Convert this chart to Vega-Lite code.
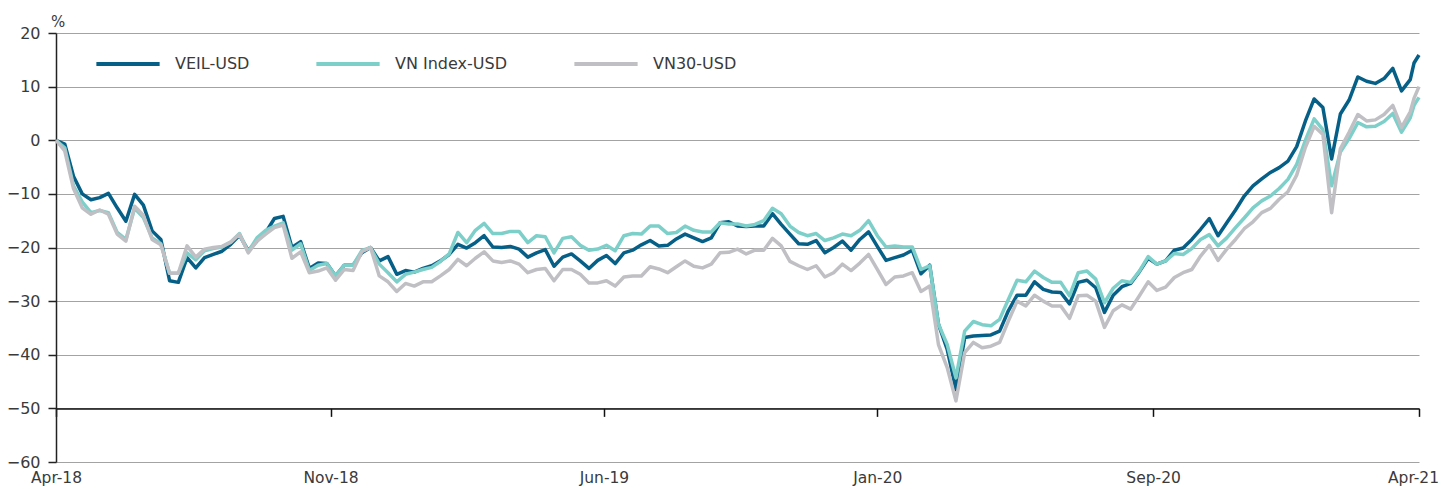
{
  "$schema": "https://vega.github.io/schema/vega-lite/v6.json",
  "width": 1363,
  "height": 429,
  "autosize": {"type": "none"},
  "padding": {"left": 56, "top": 33, "right": 24, "bottom": 27},
  "background": "white",
  "config": {
    "view": {"stroke": null},
    "font": "DejaVu Sans"
  },
  "data": {
    "values": [
      {"date": "2018-04-06", "VEIL-USD": 0, "VN Index-USD": 0, "VN30-USD": 0},
      {"date": "2018-04-13", "VEIL-USD": -0.7, "VN Index-USD": -1.4, "VN30-USD": -2},
      {"date": "2018-04-20", "VEIL-USD": -6.7, "VN Index-USD": -8.5, "VN30-USD": -9},
      {"date": "2018-04-27", "VEIL-USD": -10, "VN Index-USD": -11.5, "VN30-USD": -12.6},
      {"date": "2018-05-04", "VEIL-USD": -11.1, "VN Index-USD": -13.5, "VN30-USD": -13.8},
      {"date": "2018-05-11", "VEIL-USD": -10.7, "VN Index-USD": -13.1, "VN30-USD": -13},
      {"date": "2018-05-18", "VEIL-USD": -9.9, "VN Index-USD": -13.5, "VN30-USD": -13.8},
      {"date": "2018-05-25", "VEIL-USD": -12.6, "VN Index-USD": -17.2, "VN30-USD": -17.5},
      {"date": "2018-06-01", "VEIL-USD": -15.1, "VN Index-USD": -18.5, "VN30-USD": -18.8},
      {"date": "2018-06-08", "VEIL-USD": -10.1, "VN Index-USD": -12.7, "VN30-USD": -12.3},
      {"date": "2018-06-15", "VEIL-USD": -12.1, "VN Index-USD": -14.4, "VN30-USD": -14},
      {"date": "2018-06-22", "VEIL-USD": -16.9, "VN Index-USD": -18.2, "VN30-USD": -18.5},
      {"date": "2018-06-29", "VEIL-USD": -18.5, "VN Index-USD": -19.3, "VN30-USD": -19.5},
      {"date": "2018-07-06", "VEIL-USD": -26.2, "VN Index-USD": -24.8, "VN30-USD": -24.8},
      {"date": "2018-07-13", "VEIL-USD": -26.5, "VN Index-USD": -24.8, "VN30-USD": -24.8},
      {"date": "2018-07-20", "VEIL-USD": -21.9, "VN Index-USD": -21, "VN30-USD": -19.7},
      {"date": "2018-07-27", "VEIL-USD": -23.8, "VN Index-USD": -22.3, "VN30-USD": -21.8},
      {"date": "2018-08-03", "VEIL-USD": -21.9, "VN Index-USD": -20.6, "VN30-USD": -20.3},
      {"date": "2018-08-10", "VEIL-USD": -21.3, "VN Index-USD": -20.2, "VN30-USD": -20},
      {"date": "2018-08-17", "VEIL-USD": -20.7, "VN Index-USD": -19.9, "VN30-USD": -19.8},
      {"date": "2018-08-24", "VEIL-USD": -19.4, "VN Index-USD": -19, "VN30-USD": -19},
      {"date": "2018-08-31", "VEIL-USD": -17.7, "VN Index-USD": -17.4, "VN30-USD": -17.5},
      {"date": "2018-09-07", "VEIL-USD": -20.6, "VN Index-USD": -20.8, "VN30-USD": -21},
      {"date": "2018-09-14", "VEIL-USD": -18.8, "VN Index-USD": -18.2, "VN30-USD": -18.8},
      {"date": "2018-09-21", "VEIL-USD": -17.2, "VN Index-USD": -16.8, "VN30-USD": -17.5},
      {"date": "2018-09-28", "VEIL-USD": -14.6, "VN Index-USD": -16, "VN30-USD": -16.3},
      {"date": "2018-10-05", "VEIL-USD": -14.2, "VN Index-USD": -15.4, "VN30-USD": -15.8},
      {"date": "2018-10-12", "VEIL-USD": -20, "VN Index-USD": -20.5, "VN30-USD": -22},
      {"date": "2018-10-19", "VEIL-USD": -18.9, "VN Index-USD": -19.3, "VN30-USD": -20.8},
      {"date": "2018-10-26", "VEIL-USD": -23.9, "VN Index-USD": -24.3, "VN30-USD": -24.7},
      {"date": "2018-11-02", "VEIL-USD": -22.9, "VN Index-USD": -23.3, "VN30-USD": -24.4},
      {"date": "2018-11-09", "VEIL-USD": -23, "VN Index-USD": -23, "VN30-USD": -23.8},
      {"date": "2018-11-16", "VEIL-USD": -25.3, "VN Index-USD": -25.3, "VN30-USD": -26.1},
      {"date": "2018-11-23", "VEIL-USD": -23.3, "VN Index-USD": -23.3, "VN30-USD": -24.1},
      {"date": "2018-11-30", "VEIL-USD": -23.3, "VN Index-USD": -23.3, "VN30-USD": -24.3},
      {"date": "2018-12-07", "VEIL-USD": -21, "VN Index-USD": -20.6, "VN30-USD": -20.8},
      {"date": "2018-12-14", "VEIL-USD": -20, "VN Index-USD": -20, "VN30-USD": -20},
      {"date": "2018-12-21", "VEIL-USD": -22.5, "VN Index-USD": -23.1, "VN30-USD": -25.3},
      {"date": "2018-12-28", "VEIL-USD": -21.7, "VN Index-USD": -24.7, "VN30-USD": -26.4},
      {"date": "2019-01-04", "VEIL-USD": -25, "VN Index-USD": -26.4, "VN30-USD": -28.2},
      {"date": "2019-01-11", "VEIL-USD": -24.3, "VN Index-USD": -25, "VN30-USD": -26.7},
      {"date": "2019-01-18", "VEIL-USD": -24.6, "VN Index-USD": -24.6, "VN30-USD": -27.2},
      {"date": "2019-01-25", "VEIL-USD": -23.9, "VN Index-USD": -24.1, "VN30-USD": -26.4},
      {"date": "2019-02-01", "VEIL-USD": -23.4, "VN Index-USD": -23.7, "VN30-USD": -26.4},
      {"date": "2019-02-08", "VEIL-USD": -22.5, "VN Index-USD": -22.6, "VN30-USD": -25.3},
      {"date": "2019-02-15", "VEIL-USD": -21.3, "VN Index-USD": -21.2, "VN30-USD": -24.1},
      {"date": "2019-02-22", "VEIL-USD": -19.4, "VN Index-USD": -17.2, "VN30-USD": -22.2},
      {"date": "2019-03-01", "VEIL-USD": -20.1, "VN Index-USD": -19.1, "VN30-USD": -23.4},
      {"date": "2019-03-08", "VEIL-USD": -19.1, "VN Index-USD": -16.8, "VN30-USD": -22},
      {"date": "2019-03-15", "VEIL-USD": -17.8, "VN Index-USD": -15.5, "VN30-USD": -20.8},
      {"date": "2019-03-22", "VEIL-USD": -19.9, "VN Index-USD": -17.4, "VN30-USD": -22.5},
      {"date": "2019-03-29", "VEIL-USD": -20, "VN Index-USD": -17.4, "VN30-USD": -22.8},
      {"date": "2019-04-05", "VEIL-USD": -19.8, "VN Index-USD": -17, "VN30-USD": -22.5},
      {"date": "2019-04-12", "VEIL-USD": -20.3, "VN Index-USD": -17, "VN30-USD": -23.1},
      {"date": "2019-04-19", "VEIL-USD": -21.8, "VN Index-USD": -19.1, "VN30-USD": -24.7},
      {"date": "2019-04-26", "VEIL-USD": -21, "VN Index-USD": -17.8, "VN30-USD": -24.1},
      {"date": "2019-05-03", "VEIL-USD": -20.4, "VN Index-USD": -18, "VN30-USD": -23.9},
      {"date": "2019-05-10", "VEIL-USD": -23.5, "VN Index-USD": -21, "VN30-USD": -26.2},
      {"date": "2019-05-17", "VEIL-USD": -21.8, "VN Index-USD": -18.3, "VN30-USD": -24.1},
      {"date": "2019-05-24", "VEIL-USD": -21.2, "VN Index-USD": -18, "VN30-USD": -24.1},
      {"date": "2019-05-31", "VEIL-USD": -22.5, "VN Index-USD": -19.6, "VN30-USD": -25},
      {"date": "2019-06-07", "VEIL-USD": -23.9, "VN Index-USD": -20.5, "VN30-USD": -26.6},
      {"date": "2019-06-14", "VEIL-USD": -22.4, "VN Index-USD": -20.3, "VN30-USD": -26.6},
      {"date": "2019-06-21", "VEIL-USD": -21.5, "VN Index-USD": -19.6, "VN30-USD": -26.2},
      {"date": "2019-06-28", "VEIL-USD": -23, "VN Index-USD": -20.6, "VN30-USD": -27.2},
      {"date": "2019-07-05", "VEIL-USD": -21, "VN Index-USD": -17.8, "VN30-USD": -25.5},
      {"date": "2019-07-12", "VEIL-USD": -20.5, "VN Index-USD": -17.4, "VN30-USD": -25.3},
      {"date": "2019-07-19", "VEIL-USD": -19.5, "VN Index-USD": -17.5, "VN30-USD": -25.3},
      {"date": "2019-07-26", "VEIL-USD": -18.7, "VN Index-USD": -16, "VN30-USD": -23.6},
      {"date": "2019-08-02", "VEIL-USD": -19.7, "VN Index-USD": -16, "VN30-USD": -24},
      {"date": "2019-08-09", "VEIL-USD": -19.6, "VN Index-USD": -17.4, "VN30-USD": -24.7},
      {"date": "2019-08-16", "VEIL-USD": -18.4, "VN Index-USD": -17.2, "VN30-USD": -23.6},
      {"date": "2019-08-23", "VEIL-USD": -17.5, "VN Index-USD": -16, "VN30-USD": -22.5},
      {"date": "2019-08-30", "VEIL-USD": -18.2, "VN Index-USD": -16.8, "VN30-USD": -23.5},
      {"date": "2019-09-06", "VEIL-USD": -18.9, "VN Index-USD": -17.1, "VN30-USD": -23.8},
      {"date": "2019-09-13", "VEIL-USD": -18.2, "VN Index-USD": -17.1, "VN30-USD": -23.1},
      {"date": "2019-09-20", "VEIL-USD": -15.4, "VN Index-USD": -15.4, "VN30-USD": -21},
      {"date": "2019-09-27", "VEIL-USD": -15.2, "VN Index-USD": -15.6, "VN30-USD": -20.9},
      {"date": "2019-10-04", "VEIL-USD": -16, "VN Index-USD": -15.6, "VN30-USD": -20.3},
      {"date": "2019-10-11", "VEIL-USD": -16.1, "VN Index-USD": -16, "VN30-USD": -21.2},
      {"date": "2019-10-18", "VEIL-USD": -16, "VN Index-USD": -15.7, "VN30-USD": -20.5},
      {"date": "2019-10-25", "VEIL-USD": -16, "VN Index-USD": -15, "VN30-USD": -20.5},
      {"date": "2019-11-01", "VEIL-USD": -13.7, "VN Index-USD": -12.7, "VN30-USD": -18.3},
      {"date": "2019-11-08", "VEIL-USD": -15.7, "VN Index-USD": -13.7, "VN30-USD": -19.7},
      {"date": "2019-11-15", "VEIL-USD": -17.5, "VN Index-USD": -16, "VN30-USD": -22.6},
      {"date": "2019-11-22", "VEIL-USD": -19.3, "VN Index-USD": -17.2, "VN30-USD": -23.4},
      {"date": "2019-11-29", "VEIL-USD": -19.4, "VN Index-USD": -17.8, "VN30-USD": -24.1},
      {"date": "2019-12-06", "VEIL-USD": -18.7, "VN Index-USD": -17.4, "VN30-USD": -23.4},
      {"date": "2019-12-13", "VEIL-USD": -21, "VN Index-USD": -18.7, "VN30-USD": -25.5},
      {"date": "2019-12-20", "VEIL-USD": -20, "VN Index-USD": -18.2, "VN30-USD": -24.7},
      {"date": "2019-12-27", "VEIL-USD": -18.8, "VN Index-USD": -17.5, "VN30-USD": -23.1},
      {"date": "2020-01-03", "VEIL-USD": -20.5, "VN Index-USD": -17.8, "VN30-USD": -24.3},
      {"date": "2020-01-10", "VEIL-USD": -18.5, "VN Index-USD": -16.8, "VN30-USD": -22.9},
      {"date": "2020-01-17", "VEIL-USD": -17.1, "VN Index-USD": -15, "VN30-USD": -21.3},
      {"date": "2020-01-24", "VEIL-USD": -19.8, "VN Index-USD": -17.8, "VN30-USD": -24.1},
      {"date": "2020-01-31", "VEIL-USD": -22.4, "VN Index-USD": -19.9, "VN30-USD": -26.9},
      {"date": "2020-02-07", "VEIL-USD": -21.9, "VN Index-USD": -19.7, "VN30-USD": -25.5},
      {"date": "2020-02-14", "VEIL-USD": -21.4, "VN Index-USD": -19.9, "VN30-USD": -25.3},
      {"date": "2020-02-21", "VEIL-USD": -20.5, "VN Index-USD": -19.9, "VN30-USD": -24.7},
      {"date": "2020-02-28", "VEIL-USD": -24.9, "VN Index-USD": -24.1, "VN30-USD": -28.2},
      {"date": "2020-03-06", "VEIL-USD": -23.3, "VN Index-USD": -23.4, "VN30-USD": -27.2},
      {"date": "2020-03-13", "VEIL-USD": -34.3, "VN Index-USD": -34.3, "VN30-USD": -38.1},
      {"date": "2020-03-20", "VEIL-USD": -39, "VN Index-USD": -38.1, "VN30-USD": -42.4},
      {"date": "2020-03-27", "VEIL-USD": -46.5, "VN Index-USD": -44.3, "VN30-USD": -48.6},
      {"date": "2020-04-03", "VEIL-USD": -36.8, "VN Index-USD": -35.6, "VN30-USD": -39.6},
      {"date": "2020-04-10", "VEIL-USD": -36.5, "VN Index-USD": -33.8, "VN30-USD": -37.7},
      {"date": "2020-04-17", "VEIL-USD": -36.4, "VN Index-USD": -34.4, "VN30-USD": -38.7},
      {"date": "2020-04-24", "VEIL-USD": -36.3, "VN Index-USD": -34.6, "VN30-USD": -38.4},
      {"date": "2020-05-01", "VEIL-USD": -35.6, "VN Index-USD": -33.4, "VN30-USD": -37.7},
      {"date": "2020-05-08", "VEIL-USD": -31.8, "VN Index-USD": -29.7, "VN30-USD": -33.7},
      {"date": "2020-05-15", "VEIL-USD": -28.9, "VN Index-USD": -26.1, "VN30-USD": -30},
      {"date": "2020-05-22", "VEIL-USD": -28.9, "VN Index-USD": -26.4, "VN30-USD": -30.9},
      {"date": "2020-05-29", "VEIL-USD": -26.4, "VN Index-USD": -24.4, "VN30-USD": -28.9},
      {"date": "2020-06-05", "VEIL-USD": -27.8, "VN Index-USD": -25.6, "VN30-USD": -30},
      {"date": "2020-06-12", "VEIL-USD": -28.3, "VN Index-USD": -26.5, "VN30-USD": -30.9},
      {"date": "2020-06-19", "VEIL-USD": -28.4, "VN Index-USD": -26.5, "VN30-USD": -30.9},
      {"date": "2020-06-26", "VEIL-USD": -30.5, "VN Index-USD": -29, "VN30-USD": -33.2},
      {"date": "2020-07-03", "VEIL-USD": -26.5, "VN Index-USD": -24.7, "VN30-USD": -29},
      {"date": "2020-07-10", "VEIL-USD": -26.1, "VN Index-USD": -24.4, "VN30-USD": -28.9},
      {"date": "2020-07-17", "VEIL-USD": -27.5, "VN Index-USD": -25.9, "VN30-USD": -30},
      {"date": "2020-07-24", "VEIL-USD": -32.1, "VN Index-USD": -30.3, "VN30-USD": -34.9},
      {"date": "2020-07-31", "VEIL-USD": -28.9, "VN Index-USD": -27.6, "VN30-USD": -31.8},
      {"date": "2020-08-07", "VEIL-USD": -27.3, "VN Index-USD": -26.2, "VN30-USD": -30.7},
      {"date": "2020-08-14", "VEIL-USD": -26.7, "VN Index-USD": -26.5, "VN30-USD": -31.5},
      {"date": "2020-08-21", "VEIL-USD": -24.5, "VN Index-USD": -24.4, "VN30-USD": -29},
      {"date": "2020-08-28", "VEIL-USD": -22, "VN Index-USD": -21.7, "VN30-USD": -26.4},
      {"date": "2020-09-04", "VEIL-USD": -23.1, "VN Index-USD": -23.1, "VN30-USD": -28},
      {"date": "2020-09-11", "VEIL-USD": -22.5, "VN Index-USD": -22.5, "VN30-USD": -27.4},
      {"date": "2020-09-18", "VEIL-USD": -20.5, "VN Index-USD": -21.1, "VN30-USD": -25.6},
      {"date": "2020-09-25", "VEIL-USD": -20.1, "VN Index-USD": -21.3, "VN30-USD": -24.7},
      {"date": "2020-10-02", "VEIL-USD": -18.5, "VN Index-USD": -20.2, "VN30-USD": -24.1},
      {"date": "2020-10-09", "VEIL-USD": -16.6, "VN Index-USD": -18.5, "VN30-USD": -21.6},
      {"date": "2020-10-16", "VEIL-USD": -14.6, "VN Index-USD": -17.6, "VN30-USD": -19.6},
      {"date": "2020-10-23", "VEIL-USD": -17.8, "VN Index-USD": -19.7, "VN30-USD": -22.4},
      {"date": "2020-10-30", "VEIL-USD": -15.4, "VN Index-USD": -18.2, "VN30-USD": -20.3},
      {"date": "2020-11-06", "VEIL-USD": -13, "VN Index-USD": -16.3, "VN30-USD": -18.5},
      {"date": "2020-11-13", "VEIL-USD": -10.4, "VN Index-USD": -14.5, "VN30-USD": -16.5},
      {"date": "2020-11-20", "VEIL-USD": -8.5, "VN Index-USD": -12.6, "VN30-USD": -15.2},
      {"date": "2020-11-27", "VEIL-USD": -7.2, "VN Index-USD": -11.3, "VN30-USD": -13.5},
      {"date": "2020-12-04", "VEIL-USD": -6, "VN Index-USD": -10.4, "VN30-USD": -12.7},
      {"date": "2020-12-11", "VEIL-USD": -5.1, "VN Index-USD": -9, "VN30-USD": -11},
      {"date": "2020-12-18", "VEIL-USD": -3.9, "VN Index-USD": -7.3, "VN30-USD": -9.6},
      {"date": "2020-12-25", "VEIL-USD": -1.2, "VN Index-USD": -4.5, "VN30-USD": -6.5},
      {"date": "2021-01-01", "VEIL-USD": 3.6, "VN Index-USD": 0, "VN30-USD": -1.3},
      {"date": "2021-01-08", "VEIL-USD": 7.7, "VN Index-USD": 4, "VN30-USD": 2.6},
      {"date": "2021-01-15", "VEIL-USD": 6.1, "VN Index-USD": 2, "VN30-USD": 1.1},
      {"date": "2021-01-22", "VEIL-USD": -3.5, "VN Index-USD": -8.5, "VN30-USD": -13.5},
      {"date": "2021-01-29", "VEIL-USD": 4.9, "VN Index-USD": -2.2, "VN30-USD": -1.6},
      {"date": "2021-02-05", "VEIL-USD": 7.5, "VN Index-USD": 0.3, "VN30-USD": 1.5},
      {"date": "2021-02-12", "VEIL-USD": 11.8, "VN Index-USD": 3.3, "VN30-USD": 4.8},
      {"date": "2021-02-19", "VEIL-USD": 11, "VN Index-USD": 2.5, "VN30-USD": 3.6},
      {"date": "2021-02-26", "VEIL-USD": 10.6, "VN Index-USD": 2.6, "VN30-USD": 3.8},
      {"date": "2021-03-05", "VEIL-USD": 11.5, "VN Index-USD": 3.5, "VN30-USD": 4.8},
      {"date": "2021-03-12", "VEIL-USD": 13.4, "VN Index-USD": 5, "VN30-USD": 6.5},
      {"date": "2021-03-19", "VEIL-USD": 9.2, "VN Index-USD": 1.5, "VN30-USD": 2.4},
      {"date": "2021-03-26", "VEIL-USD": 11.3, "VN Index-USD": 4.2, "VN30-USD": 5.3},
      {"date": "2021-03-29", "VEIL-USD": 14.4, "VN Index-USD": 6.5, "VN30-USD": 7.8},
      {"date": "2021-04-02", "VEIL-USD": 15.9, "VN Index-USD": 8, "VN30-USD": 10}
    ]
  },
  "transform": [
    {"fold": ["VEIL-USD", "VN Index-USD", "VN30-USD"], "as": ["series", "value"]}
  ],
  "resolve": {"axis": {"x": "independent"}},
  "layer": [
    {
      "mark": {"type": "line", "strokeWidth": 3.5, "strokeJoin": "round"},
      "encoding": {
        "x": {
          "field": "date",
          "type": "temporal",
          "scale": {
            "type": "utc",
            "domain": [
              {"year": 2018, "month": 4, "date": 6, "utc": true},
              {"year": 2021, "month": 4, "date": 2, "utc": true}
            ],
            "nice": false
          },
          "axis": {
            "orient": "bottom",
            "title": null,
            "values": [
              {"year": 2018, "month": 4, "date": 6, "utc": true},
              {"year": 2018, "month": 11, "date": 12, "utc": true},
              {"year": 2019, "month": 6, "date": 19, "utc": true},
              {"year": 2020, "month": 1, "date": 24, "utc": true},
              {"year": 2020, "month": 9, "date": 1, "utc": true},
              {"year": 2021, "month": 4, "date": 2, "utc": true}
            ],
            "format": "%b-%y",
            "domain": false,
            "ticks": false,
            "tickSize": 0,
            "grid": false,
            "labelPadding": 8,
            "labelDx": -7,
            "labelOffset": {"condition": {"test": "datum.index >= 0.99", "value": -6}, "value": 0},
            "labelFont": "DejaVu Sans",
            "labelFontSize": 15.5,
            "labelColor": "#3a3a3a",
            "labelOverlap": false,
            "labelFlush": false,
            "labelBound": false
          }
        },
        "y": {
          "field": "value",
          "type": "quantitative",
          "scale": {"domain": [-60, 20], "nice": false, "zero": false},
          "axis": {
            "title": "%",
            "titleAngle": 0,
            "titleX": 1.5,
            "titleY": -7,
            "titleAlign": "center",
            "titleBaseline": "alphabetic",
            "titleFont": "DejaVu Sans",
            "titleFontSize": 15,
            "titleFontWeight": "normal",
            "titleColor": "#3a3a3a",
            "values": [-60, -50, -40, -30, -20, -10, 0, 10, 20],
            "domainColor": "#222222",
            "domainWidth": 1.5,
            "tickColor": "#222222",
            "tickSize": 8,
            "tickWidth": 1.5,
            "labelPadding": 8,
            "labelFont": "DejaVu Sans",
            "labelFontSize": 16,
            "labelColor": "#3a3a3a",
            "grid": true,
            "gridColor": "#a3a3a3",
            "gridWidth": 1.2
          }
        },
        "color": {
          "field": "series",
          "type": "nominal",
          "scale": {
            "domain": ["VEIL-USD", "VN Index-USD", "VN30-USD"],
            "range": ["#065f86", "#7dcfca", "#c0c0c4"]
          },
          "legend": {
            "orient": "none",
            "legendX": 38,
            "legendY": -3,
            "direction": "horizontal",
            "title": null,
            "symbolType": "stroke",
            "symbolSize": 4000,
            "symbolStrokeWidth": 4,
            "labelFont": "DejaVu Sans",
            "labelFontSize": 16,
            "labelColor": "#3a3a3a",
            "labelOffset": 13,
            "columnPadding": 58
          }
        }
      }
    },
    {
      "mark": {"type": "point", "opacity": 0, "size": 1},
      "encoding": {
        "x": {
          "field": "date",
          "type": "temporal",
          "axis": {
            "orient": "bottom",
            "title": null,
            "offset": -53.625,
            "values": [
              {"year": 2018, "month": 4, "date": 6, "utc": true},
              {"year": 2018, "month": 11, "date": 12, "utc": true},
              {"year": 2019, "month": 6, "date": 19, "utc": true},
              {"year": 2020, "month": 1, "date": 24, "utc": true},
              {"year": 2020, "month": 9, "date": 1, "utc": true},
              {"year": 2021, "month": 4, "date": 2, "utc": true}
            ],
            "labels": false,
            "grid": false,
            "domain": true,
            "domainColor": "#111111",
            "domainWidth": 1.5,
            "ticks": true,
            "tickColor": "#111111",
            "tickWidth": 1.5,
            "tickSize": 8
          }
        }
      }
    }
  ]
}
